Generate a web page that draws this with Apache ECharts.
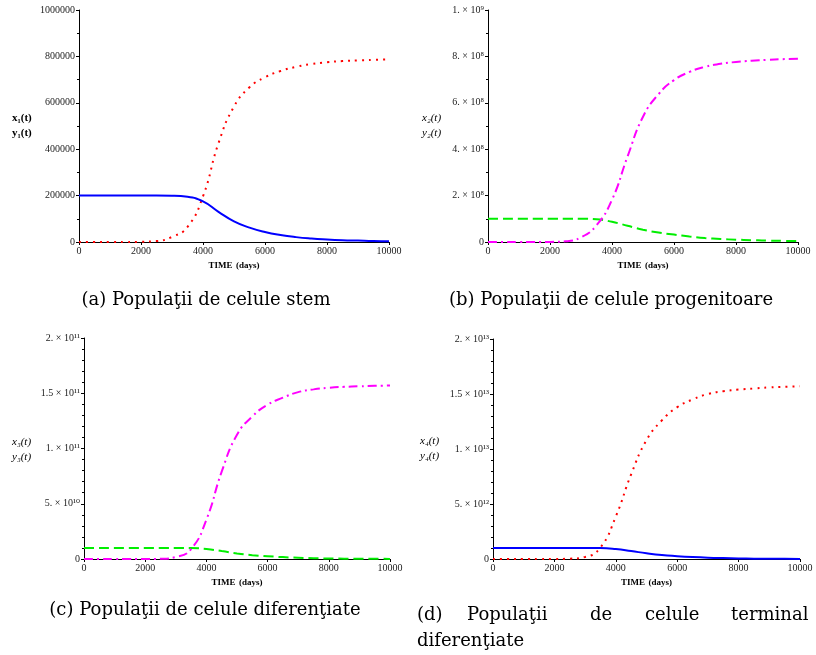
<!DOCTYPE html>
<html>
<head>
<meta charset="utf-8">
<script src="https://cdn.jsdelivr.net/npm/echarts@6/dist/echarts.min.js"></script>
<style>
  html, body { margin: 0; padding: 0; background: #fff; }
  #main { width: 816px; height: 655px; }
</style>
</head>
<body>
<div id="main"></div>
<script>
// time grid (days)
const days = [0, 500, 1000, 1500, 2000, 2500, 3000, 3500, 4000, 4500, 5000,
              5500, 6000, 6500, 7000, 7500, 8000, 8500, 9000, 9500, 10000];

// (a) stem cells
const stemBlue = [200000, 200000, 200000, 200000, 200000, 200000, 199500, 195000, 175000, 130000, 89000,
                  62000, 43000, 30000, 21000, 15000, 11000, 8000, 6000, 4000, 3000];
const stemRed = [0, 0, 0, 0, 1000, 4000, 22000, 65000, 197000, 426000, 584000,
                 667000, 710000, 737000, 755000, 767000, 775000, 780000, 783000, 785000, 787000];

// (b) progenitor cells
const progGreen = [1e8, 1e8, 1e8, 1e8, 1e8, 1e8, 1e8, 0.98e8, 0.87e8, 0.7e8, 0.53e8,
                   0.41e8, 0.32e8, 0.24e8, 0.17e8, 0.13e8, 0.1e8, 0.08e8, 0.06e8, 0.05e8, 0.04e8];
const progMagenta = [0, 0, 0, 0, 0.005e8, 0.03e8, 0.2e8, 0.72e8, 1.82e8, 3.68e8, 5.4e8,
                     6.37e8, 6.98e8, 7.33e8, 7.55e8, 7.68e8, 7.76e8, 7.81e8, 7.85e8, 7.88e8, 7.9e8];

// (c) differentiated cells
const diffGreen = [1e10, 1e10, 1e10, 1e10, 1e10, 1e10, 1e10, 0.99e10, 0.9e10, 0.72e10, 0.5e10,
                   0.35e10, 0.25e10, 0.17e10, 0.11e10, 0.07e10, 0.05e10, 0.03e10, 0.02e10, 0.015e10, 0.01e10];
const diffMagenta = [0, 0, 0, 0, 0, 0.02e10, 0.18e10, 0.9e10, 3.56e10, 7.9e10, 11.25e10,
                     12.9e10, 13.97e10, 14.6e10, 15.1e10, 15.35e10, 15.5e10, 15.58e10, 15.63e10, 15.67e10, 15.7e10];

// (d) terminally differentiated cells
const termBlue = [1e12, 1e12, 1e12, 1e12, 1e12, 1e12, 1e12, 0.99e12, 0.9e12, 0.72e12, 0.52e12,
                  0.36e12, 0.26e12, 0.18e12, 0.12e12, 0.08e12, 0.05e12, 0.03e12, 0.02e12, 0.015e12, 0.01e12];
const termRed = [0, 0, 0, 0, 0, 0.03e12, 0.18e12, 1.05e12, 3.86e12, 7.7e12, 10.8e12,
                 12.6e12, 13.8e12, 14.5e12, 15.0e12, 15.25e12, 15.4e12, 15.5e12, 15.6e12, 15.65e12, 15.7e12];

// tick labels
const xTicks = ['0', '2000', '4000', '6000', '8000', '10000'];
const yTicksA = ['0', '200000', '400000', '600000', '800000', '1000000'];
const yTicksB = ['0', '2. × 10⁸', '4. × 10⁸', '6. × 10⁸', '8. × 10⁸', '1. × 10⁹'];
const yTicksC = ['0', '5. × 10¹⁰', '1. × 10¹¹', '1.5 × 10¹¹', '2. × 10¹¹'];
const yTicksD = ['0', '5. × 10¹²', '1. × 10¹³', '1.5 × 10¹³', '2. × 10¹³'];

const captions = [
  '(a) Populaţii de celule stem',
  '(b) Populaţii de celule progenitoare',
  '(c) Populaţii de celule diferenţiate'
];
const captionD1 = ['(d)', 'Populaţii', 'de', 'celule', 'terminal'];
const captionD2 = 'diferenţiate';

const SERIF = "'Liberation Serif', 'DejaVu Serif', serif";
const CAPFONT = "18px 'DejaVu Serif', serif";

const pair = (ys) => days.map((d, i) => [d, ys[i]]);

function makeX(gridIndex) {
  return {
    type: 'value', gridIndex, min: 0, max: 10000, interval: 2000,
    name: '{b|TIME} {b|(days)}', nameLocation: 'middle', nameGap: 18,
    nameTextStyle: { rich: { b: { fontFamily: SERIF, fontWeight: 'bold', fontSize: 9, color: '#000' } } },
    axisLine: { onZero: false, lineStyle: { color: '#000', width: 1 } },
    axisTick: { show: true, length: 3, lineStyle: { color: '#000' } },
    minorTick: { show: false },
    splitLine: { show: false },
    axisLabel: {
      fontFamily: SERIF, fontSize: 10, color: '#222', margin: 4,
      formatter: (v) => xTicks[Math.round(v / 2000)]
    }
  };
}

function makeY(gridIndex, max, interval, labels, minorSplit) {
  return {
    type: 'value', gridIndex, min: 0, max, interval,
    axisLine: { show: true, lineStyle: { color: '#000', width: 1 } },
    axisTick: { show: true, length: 3, lineStyle: { color: '#000' } },
    minorTick: { show: true, splitNumber: minorSplit, length: 2, lineStyle: { color: '#000' } },
    splitLine: { show: false },
    axisLabel: {
      fontFamily: SERIF, fontSize: 10, color: '#222', margin: 4,
      formatter: (v) => labels[Math.round(v / interval)]
    }
  };
}

const solid = (color) => ({ color, width: 2, type: 'solid' });
const dotted = (color) => ({ color, width: 2, type: [2, 5] });
const dashed = (color) => ({ color, width: 2, type: [10, 5] });
const dashDot = (color) => ({ color, width: 2, type: [9, 4, 2, 4] });

function line(xi, ys, style) {
  return {
    type: 'line', xAxisIndex: xi, yAxisIndex: xi, data: pair(ys),
    showSymbol: false, smooth: 0.5,
    lineStyle: style, color: style.color, silent: true
  };
}

function yName(x, y, n, bold) {
  const f = (bold ? 'bold ' : 'italic ') + "11px 'Liberation Serif', serif";
  return [
    { type: 'text', x, y, style: { text: 'x' + n + '(t)', font: f, fill: '#000', textVerticalAlign: 'middle' } },
    { type: 'text', x, y: y + 15, style: { text: 'y' + n + '(t)', font: f, fill: '#000', textVerticalAlign: 'middle' } }
  ];
}

const sub = ['₁', '₂', '₃', '₄'];
const dX = [417, 467, 590, 645, 731];

const chart = echarts.init(document.getElementById('main'));
chart.setOption({
  backgroundColor: '#fff',
  animation: false,
  grid: [
    { left: 79, top: 10, width: 310, height: 232 },
    { left: 488, top: 10, width: 310, height: 232 },
    { left: 84, top: 338, width: 306, height: 221 },
    { left: 493, top: 339, width: 307, height: 220 }
  ],
  xAxis: [makeX(0), makeX(1), makeX(2), makeX(3)],
  yAxis: [
    makeY(0, 1000000, 200000, yTicksA, 2),
    makeY(1, 1e9, 2e8, yTicksB, 2),
    makeY(2, 2e11, 5e10, yTicksC, 5),
    makeY(3, 2e13, 5e12, yTicksD, 5)
  ],
  series: [
    line(0, stemRed, dotted('#ff0000')),
    line(0, stemBlue, solid('#0000ff')),
    line(1, progGreen, dashed('#00ee00')),
    line(1, progMagenta, dashDot('#ff00ff')),
    line(2, diffGreen, dashed('#00ee00')),
    line(2, diffMagenta, dashDot('#ff00ff')),
    line(3, termRed, dotted('#ff0000')),
    line(3, termBlue, solid('#0000ff'))
  ],
  graphic: [].concat(
    yName(12, 118, sub[0], true),
    yName(422, 118, sub[1], false),
    yName(12, 442, sub[2], false),
    yName(420, 441, sub[3], false),
    [
      { type: 'text', x: 206, y: 300, style: { text: captions[0], font: CAPFONT, fill: '#000', textAlign: 'center', textVerticalAlign: 'middle' } },
      { type: 'text', x: 611, y: 300, style: { text: captions[1], font: CAPFONT, fill: '#000', textAlign: 'center', textVerticalAlign: 'middle' } },
      { type: 'text', x: 205, y: 610, style: { text: captions[2], font: CAPFONT, fill: '#000', textAlign: 'center', textVerticalAlign: 'middle' } },
      { type: 'text', x: 417, y: 641, style: { text: captionD2, font: CAPFONT, fill: '#000', textVerticalAlign: 'middle' } }
    ],
    captionD1.map((w, i) => ({
      type: 'text', x: dX[i], y: 615,
      style: { text: w, font: CAPFONT, fill: '#000', textVerticalAlign: 'middle' }
    }))
  )
});
</script>
</body>
</html>
